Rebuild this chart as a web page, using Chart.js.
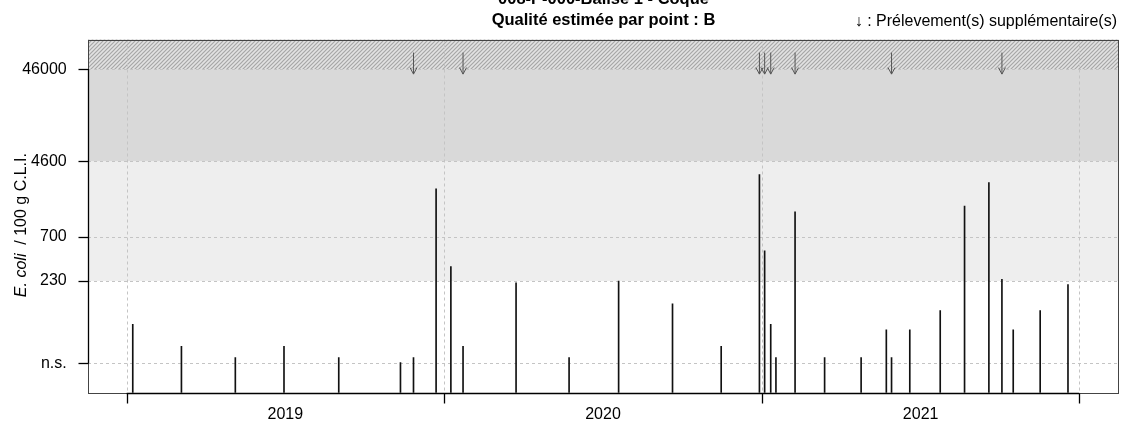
<!DOCTYPE html>
<html>
<head>
<meta charset="utf-8">
<script src="https://cdn.jsdelivr.net/npm/chart.js@4.4.0/dist/chart.umd.min.js"></script>
<style>
  html, body { margin: 0; padding: 0; background: #fff; }
  #wrap { width: 1122px; height: 421px; position: relative; }
</style>
</head>
<body>
<div id="wrap"><canvas id="chart"></canvas></div>
<script>
// ─── DATA ───────────────────────────────────────────────────────────
const titleLines = ['008-P-000-Balise 1 - Coque', 'Qualité estimée par point : B'];
const legendText = '↓ : Prélevement(s) supplémentaire(s)';

const sampleDates = [
  '2019-01-08', '2019-03-05', '2019-05-06', '2019-07-01', '2019-09-02', '2019-11-12', '2019-11-27', '2019-12-23',
  '2020-01-09', '2020-01-23', '2020-03-24', '2020-05-24', '2020-07-20', '2020-09-20', '2020-11-15', '2020-12-29',
  '2021-01-04', '2021-01-11', '2021-01-17', '2021-02-08', '2021-03-14', '2021-04-25', '2021-05-24', '2021-05-30',
  '2021-06-20', '2021-07-25', '2021-08-22', '2021-09-19', '2021-10-04', '2021-10-17', '2021-11-17', '2021-12-19'
];
const ecoliValues = [
  78, 45, 34, 45, 34, 30, 34, 2300,
  330, 45, 220, 34, 230, 130, 45, 3300,
  490, 78, 34, 1300, 34, 34, 68, 34,
  68, 110, 1500, 2700, 240, 68, 110, 210
];
// prélèvements supplémentaires (flèches)
const extraDates = ['2019-11-27', '2020-01-23', '2020-12-29', '2021-01-04', '2021-01-11', '2021-02-08', '2021-05-30', '2021-10-04'];

const yTickValues = [29.5, 230, 700, 4600, 46000];
const yTickLabels = ['n.s.', '230', '700', '4600', '46000'];
const yearStarts = ['2019-01-01', '2020-01-01', '2021-01-01', '2022-01-01'];
const yearLabels = ['2019', '2020', '2021'];
const qualityLimits = [230, 4600, 46000];

const Y_MIN = 14.1, Y_MAX = 96400;
const X_MIN = -44.5, X_MAX = 1141.7;   // jours depuis 2019-01-01

// ─── HELPERS ────────────────────────────────────────────────────────
const ORIGIN = Date.UTC(2019, 0, 1);
const dayOf = s => (Date.parse(s) - ORIGIN) / 86400000;
const FONT = "'Liberation Sans', Arial, sans-serif";

const yearMids = yearLabels.map((_, i) => (dayOf(yearStarts[i]) + dayOf(yearStarts[i + 1])) / 2);

function hatchPattern(ctx) {
  const c = document.createElement('canvas');
  c.width = 4; c.height = 4;
  const p = c.getContext('2d');
  p.fillStyle = '#e2e2e2';
  p.fillRect(0, 0, 4, 4);
  p.strokeStyle = '#a6a6a6';
  p.lineWidth = 1.2;
  p.beginPath();
  p.moveTo(-1, 5); p.lineTo(5, -1);
  p.moveTo(-1, 1); p.lineTo(1, -1);
  p.moveTo(3, 5); p.lineTo(5, 3);
  p.stroke();
  return ctx.createPattern(c, 'repeat');
}

// ─── BACKGROUND: bandes de qualité + grille ─────────────────────────
const backgroundPlugin = {
  id: 'qualityBands',
  beforeDraw(chart) {
    const { ctx, chartArea: a, scales: { x, y } } = chart;
    ctx.save();
    const p230 = y.getPixelForValue(qualityLimits[0]);
    const p4600 = y.getPixelForValue(qualityLimits[1]);
    const p46000 = y.getPixelForValue(qualityLimits[2]);
    ctx.fillStyle = '#ffffff';
    ctx.fillRect(a.left, a.top, a.width, a.height);
    ctx.fillStyle = '#eeeeee';
    ctx.fillRect(a.left, p4600, a.width, p230 - p4600);
    ctx.fillStyle = '#d9d9d9';
    ctx.fillRect(a.left, p46000, a.width, p4600 - p46000);
    ctx.fillStyle = hatchPattern(ctx);
    ctx.fillRect(a.left, a.top, a.width, p46000 - a.top);

    // grille pointillée
    ctx.strokeStyle = '#c4c4c4';
    ctx.lineWidth = 1;
    ctx.setLineDash([3, 3]);
    yTickValues.forEach(v => {
      const py = Math.round(y.getPixelForValue(v)) + 0.5;
      ctx.beginPath(); ctx.moveTo(a.left, py); ctx.lineTo(a.right, py); ctx.stroke();
    });
    yearStarts.forEach(d => {
      const px = Math.round(x.getPixelForValue(dayOf(d))) + 0.5;
      ctx.beginPath(); ctx.moveTo(px, a.top); ctx.lineTo(px, a.bottom); ctx.stroke();
    });
    ctx.restore();
  },
  afterDraw(chart) {
    const { ctx, chartArea: a, scales: { x, y } } = chart;
    ctx.save();

    // flèches des prélèvements supplémentaires
    const tip = y.getPixelForValue(qualityLimits[2]) + 5;
    ctx.strokeStyle = '#555555';
    ctx.lineWidth = 1;
    extraDates.forEach(d => {
      const px = x.getPixelForValue(dayOf(d));
      ctx.beginPath();
      ctx.moveTo(px, tip - 21.5); ctx.lineTo(px, tip);
      ctx.moveTo(px - 3.5, tip - 6.5); ctx.lineTo(px, tip); ctx.lineTo(px + 3.5, tip - 6.5);
      ctx.stroke();
    });

    // cadre
    ctx.strokeStyle = '#444444';
    ctx.strokeRect(Math.round(a.left) + 0.5, Math.round(a.top) + 0.5, Math.round(a.width) - 1, Math.round(a.height));

    // axes noirs + graduations
    ctx.strokeStyle = '#000000';
    ctx.lineWidth = 1.3;
    const lx = Math.round(a.left) + 0.5;
    const yTop = y.getPixelForValue(yTickValues[yTickValues.length - 1]);
    const yBot = y.getPixelForValue(yTickValues[0]);
    ctx.beginPath(); ctx.moveTo(lx, yTop); ctx.lineTo(lx, yBot); ctx.stroke();
    yTickValues.forEach(v => {
      const py = Math.round(y.getPixelForValue(v)) + 0.5;
      ctx.beginPath(); ctx.moveTo(lx - 10, py); ctx.lineTo(lx, py); ctx.stroke();
    });
    const by = Math.round(a.bottom) + 0.5;
    const xFirst = x.getPixelForValue(dayOf(yearStarts[0]));
    const xLast = x.getPixelForValue(dayOf(yearStarts[yearStarts.length - 1]));
    ctx.beginPath(); ctx.moveTo(xFirst, by); ctx.lineTo(xLast, by); ctx.stroke();
    yearStarts.forEach(d => {
      const px = Math.round(x.getPixelForValue(dayOf(d))) + 0.5;
      ctx.beginPath(); ctx.moveTo(px, by); ctx.lineTo(px, by + 10); ctx.stroke();
    });

    // titres
    const cx = (a.left + a.right) / 2;
    ctx.fillStyle = '#000';
    ctx.textAlign = 'center';
    ctx.textBaseline = 'alphabetic';
    ctx.font = `bold 16.5px ${FONT}`;
    ctx.fillText(titleLines[0], cx, 4);
    ctx.fillText(titleLines[1], cx, 25);

    ctx.font = `16px ${FONT}`;
    ctx.textAlign = 'right';
    ctx.fillText(legendText, 1117, 25.5);

    // libellé de l'axe Y (E. coli en italique)
    const part1 = 'E. coli', part2 = '  / 100 g C.L.I.';
    ctx.translate(22, (a.top + a.bottom) / 2 + 9);
    ctx.rotate(-Math.PI / 2);
    ctx.textBaseline = 'middle';
    ctx.textAlign = 'left';
    ctx.font = `italic 16px ${FONT}`;
    const w1 = ctx.measureText(part1).width;
    ctx.font = `16px ${FONT}`;
    const w2 = ctx.measureText(part2).width;
    const start = -(w1 + w2) / 2;
    ctx.font = `italic 16px ${FONT}`;
    ctx.fillText(part1, start, 0);
    ctx.font = `16px ${FONT}`;
    ctx.fillText(part2, start + w1, 0);
    ctx.restore();
  }
};

// ─── CHART ──────────────────────────────────────────────────────────
new Chart(document.getElementById('chart'), {
  type: 'bar',
  data: {
    datasets: [{
      label: 'E. coli',
      data: sampleDates.map((d, i) => ({ x: dayOf(d), y: ecoliValues[i] })),
      backgroundColor: '#111111',
      borderWidth: 0,
      barThickness: 1,
      base: Y_MIN
    }]
  },
  options: {
    responsive: true,
    maintainAspectRatio: false,
    animation: false,
    layout: { padding: { top: 39.5, right: 3, left: 0, bottom: 0 } },
    plugins: { legend: { display: false }, tooltip: { enabled: false } },
    scales: {
      x: {
        type: 'linear',
        min: X_MIN, max: X_MAX,
        offset: false,
        grid: { display: false, drawTicks: false },
        border: { display: false },
        afterBuildTicks: s => { s.ticks = yearMids.map(v => ({ value: v })); },
        afterFit: s => { s.height = 28.3; },
        ticks: {
          autoSkip: false, maxRotation: 0, padding: 12.5,
          color: '#000', font: { family: FONT, size: 16 },
          callback: (v, i) => yearLabels[i]
        }
      },
      y: {
        type: 'logarithmic',
        min: Y_MIN, max: Y_MAX,
        // écart libellé/axe porté par tickLength (le padding gonfle la marge basse)
        grid: { display: false, drawTicks: true, tickLength: 21.3 },
        border: { display: false },
        afterBuildTicks: s => { s.ticks = yTickValues.map(v => ({ value: v })); },
        afterFit: s => { s.width = 88; },
        ticks: {
          autoSkip: false, padding: 0,
          color: '#000', font: { family: FONT, size: 16 },
          callback: (v, i) => yTickLabels[i]
        }
      }
    }
  },
  plugins: [backgroundPlugin]
});
</script>
</body>
</html>
